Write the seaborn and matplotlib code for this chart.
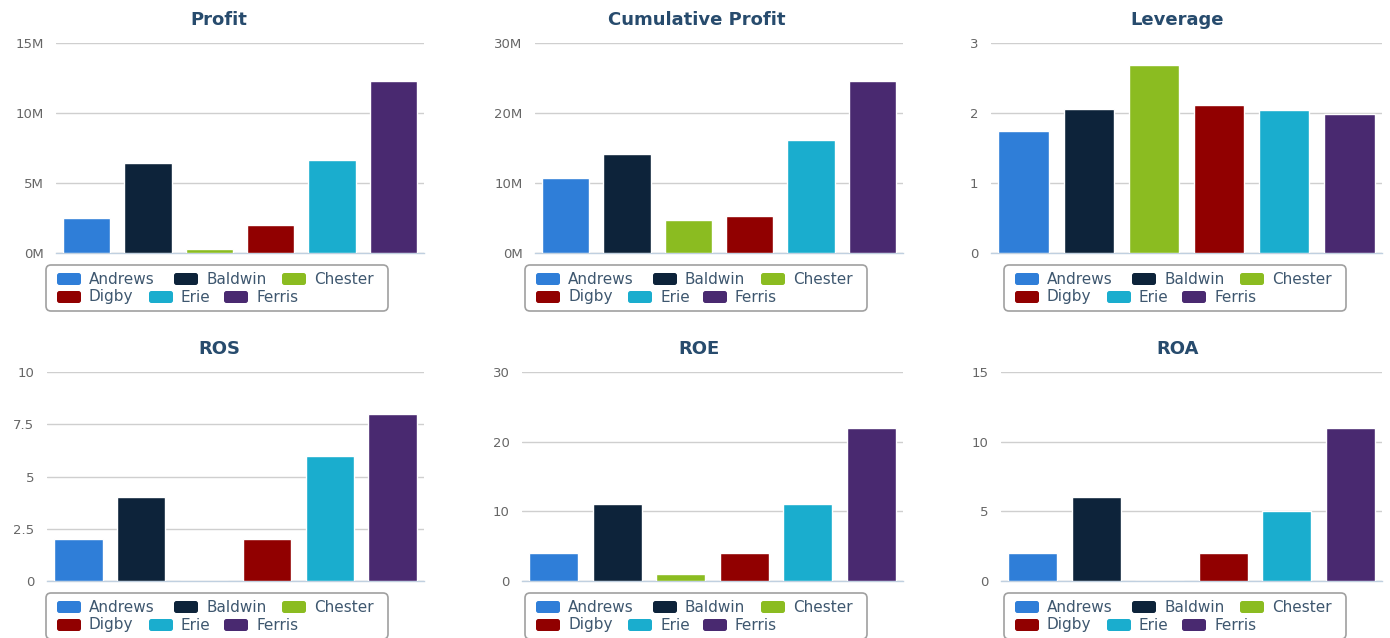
import matplotlib
matplotlib.use("Agg")
import matplotlib.pyplot as plt
from matplotlib.patches import FancyBboxPatch
from matplotlib.ticker import FuncFormatter, MultipleLocator
import seaborn as sns

COMPANIES = ["Andrews", "Baldwin", "Chester", "Digby", "Erie", "Ferris"]
COLORS = ["#2F7ED8", "#0D233A", "#8BBC21", "#910000", "#1AADCE", "#492970"]

PROFIT = [2.48e6, 6.4e6, 0.28e6, 1.98e6, 6.62e6, 12.27e6]
CUM_PROFIT = [10.7e6, 14.15e6, 4.75e6, 5.22e6, 16.2e6, 24.55e6]
LEVERAGE = [1.75, 2.06, 2.69, 2.11, 2.05, 1.99]
ROS = [2, 4, 0, 2, 6, 8]
ROE = [4, 11, 1, 4, 11, 22]
ROA = [2, 6, 0, 2, 5, 11]

TITLE_COLOR = "#274B6D"
LEGEND_TEXT = "#3E576F"
TICK_COLOR = "#666666"

W, H = 1390, 638

# (title, values, ymax, step, millions?, axes box in px [left, top, width, height], title centre x, legend box left)
PANELS = [
    ("Profit", PROFIT, 15e6, 5e6, True, (56, 43, 368, 210), 219, 46),
    ("Cumulative Profit", CUM_PROFIT, 30e6, 10e6, True, (535, 43, 368, 210), 697, 525),
    ("Leverage", LEVERAGE, 3, 1, False, (991, 43, 391, 210), 1177, 1004),
    ("ROS", ROS, 10, 2.5, False, (47, 372, 377, 209), 219, 46),
    ("ROE", ROE, 30, 10, False, (522, 372, 381, 209), 699, 525),
    ("ROA", ROA, 15, 5, False, (1001, 372, 381, 209), 1178, 1004),
]

# legend item offsets inside the box (px), Highcharts-style flow layout
LEGEND_SLOTS = [(11, 14), (128, 14), (236, 14), (11, 32), (103, 32), (178, 32)]

sns.set_style("white")
plt.rcParams["font.family"] = ["DejaVu Sans"]

fig = plt.figure(figsize=(W / 100, H / 100), dpi=100)
palette = dict(zip(COMPANIES, COLORS))


def millions(v, _pos):
    return f"{v / 1e6:.0f}M"


def plain(v, _pos):
    return f"{v:g}"


for title, values, ymax, step, is_money, (left, top, w, h), tx, lx in PANELS:
    ax = fig.add_axes([left / W, (H - top - h) / H, w / W, h / H])
    sns.barplot(
        x=COMPANIES, y=values, hue=COMPANIES, palette=palette, legend=False,
        saturation=1, width=0.77, edgecolor="white", linewidth=1, ax=ax, zorder=3,
    )
    ax.set_ylim(0, ymax)
    ax.set_xlim(-0.5, len(COMPANIES) - 0.5)
    ax.yaxis.set_major_locator(MultipleLocator(step))
    ax.yaxis.set_major_formatter(FuncFormatter(millions if is_money else plain))
    ax.grid(axis="y", color="#CFCFCF", linewidth=1, zorder=0)
    ax.set_axisbelow(True)
    ax.set_xticks([])
    ax.set_xlabel("")
    ax.set_ylabel("")
    ax.tick_params(axis="y", length=0, pad=9, labelsize=9.5, labelcolor=TICK_COLOR)
    for side in ["top", "right", "left"]:
        ax.spines[side].set_visible(False)
    ax.spines["bottom"].set_color("#C0D0E0")
    ax.spines["bottom"].set_linewidth(1)

    title_y = 20 if top < 100 else 349
    fig.text(tx / W, 1 - title_y / H, title, ha="center", va="center",
             fontsize=13, fontweight="bold", color=TITLE_COLOR)

# overlay in pixel coordinates for the legend boxes
over = fig.add_axes([0, 0, 1, 1])
over.set_xlim(0, W)
over.set_ylim(H, 0)
over.axis("off")

for _title, _v, _m, _s, _f, (left, top, w, h), _tx, lx in PANELS:
    ly = 265 if top < 100 else 593
    over.add_patch(FancyBboxPatch(
        (lx, ly), 342, 46, boxstyle="round,pad=0,rounding_size=5",
        facecolor="white", edgecolor="#A0A0A0", linewidth=1.2,
    ))
    for name, color, (dx, dy) in zip(COMPANIES, COLORS, LEGEND_SLOTS):
        over.add_patch(FancyBboxPatch(
            (lx + dx, ly + dy - 6), 24, 12, boxstyle="round,pad=0,rounding_size=2.5",
            facecolor=color, edgecolor="none",
        ))
        over.text(lx + dx + 32, ly + dy, name, ha="left", va="center",
                  fontsize=11, color=LEGEND_TEXT)

fig.savefig("out.png", dpi=100)
